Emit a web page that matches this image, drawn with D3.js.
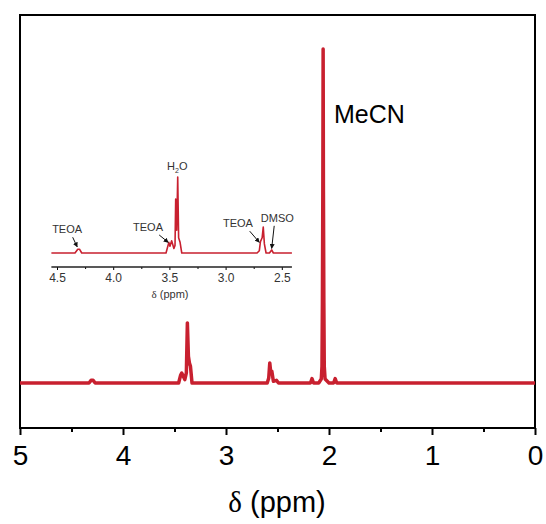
<!DOCTYPE html>
<html>
<head>
<meta charset="utf-8">
<script src="https://cdn.jsdelivr.net/npm/d3@7"></script>
<style>
  body { margin: 0; background: #fff; }
  text { font-family: 'Liberation Sans', Arial, sans-serif; }
</style>
</head>
<body>
<svg id="chart" width="546" height="524"></svg>
<script>
// main spectrum trace (ppm, intensity % of MeCN)
const mainPpm = [5.0, 4.33, 4.31, 4.29, 4.27, 3.46, 3.44, 3.43, 3.42, 3.40, 3.385, 3.375, 3.365, 3.355, 3.345, 3.33,
  2.60, 2.585, 2.575, 2.565, 2.555, 2.54, 2.51, 2.49, 2.18, 2.165, 2.15, 2.10, 2.075, 2.068, 2.064, 2.060, 2.057,
  2.054, 2.050, 2.046, 2.038, 2.00, 1.955, 1.94, 1.925, 0];
const mainInt = [0, 0, 0.8, 0.8, 0, 0, 2.4, 3.0, 2.4, 1.0, 3, 18, 8, 6, 5, 0,
  0, 1.5, 6, 3, 3.5, 0.5, 0.8, 0, 0, 1.3, 0, 0, 1.2, 5, 24, 57, 100,
  57, 24, 5, 1.2, 0, 0, 1.3, 0, 0];

// inset trace (ppm, intensity % of H2O)
const insetPpm = [4.55, 4.34, 4.315, 4.30, 4.28, 3.53, 3.505, 3.495, 3.48, 3.46, 3.45, 3.444, 3.435, 3.426, 3.418,
  3.405, 3.39, 2.72, 2.70, 2.69, 2.675, 2.665, 2.655, 2.64, 2.61, 2.59, 2.575, 2.41];
const insetInt = [0, 0, 5, 5, 0, 0, 14, 9, 16, 6, 10, 71, 30, 100, 20,
  14, 0, 0, 3, 15, 20, 34, 12, 0, 0, 4, 0, 0];

const mainTicks = [5, 4, 3, 2, 1, 0];
const mainMinor = [4.5, 3.5, 2.5, 1.5, 0.5];
const insetTicks = [4.5, 4.0, 3.5, 3.0, 2.5];
const insetMinor = [4.25, 3.75, 3.25, 2.75];

// inset annotations: label, label pos (ppm, intensity), arrow tip (ppm, intensity)
const insetLabels = ['TEOA', 'TEOA', 'TEOA', 'DMSO'];
const labelPpm = [4.41, 3.69, 2.89, 2.54];
const labelInt = [26, 29, 34, 41];
const tipPpm = [4.32, 3.51, 2.70, 2.59];
const tipInt = [8, 14, 14, 6];

const red = '#c8202f';
const svg = d3.select('#chart');

// ---- main plot
const x = d3.scaleLinear().domain([5, 0]).range([20, 535]);
const y = d3.scaleLinear().domain([0, 100]).range([383, 49]);

svg.append('rect')
  .attr('x', 20).attr('y', 15)
  .attr('width', 515).attr('height', 413)
  .style('fill', 'none').style('stroke', '#000').style('stroke-width', 2);

const mainData = mainPpm.map((p, i) => [p, mainInt[i]]);
const line = d3.line().x(d => x(d[0])).y(d => y(d[1]));

svg.append('path')
  .datum(mainData)
  .attr('d', line)
  .style('fill', 'none')
  .style('stroke', red)
  .style('stroke-width', 3.5)
  .style('stroke-linejoin', 'round');

const xAxis = svg.append('g')
  .attr('transform', 'translate(0,428)')
  .call(d3.axisBottom(x).tickValues(mainTicks).tickSize(7).tickPadding(10).tickFormat(d3.format('d')));
xAxis.select('.domain').remove();
xAxis.selectAll('line').style('stroke-width', 2);
xAxis.selectAll('text')
  .style('font-size', '28px')
  .style('font-family', "'Liberation Sans', Arial, sans-serif")
  .attr('fill', '#000');

const xMinor = svg.append('g')
  .attr('transform', 'translate(0,428)')
  .call(d3.axisBottom(x).tickValues(mainMinor).tickSize(4).tickFormat(''));
xMinor.select('.domain').remove();
xMinor.selectAll('line').style('stroke-width', 2);

const title = svg.append('text')
  .attr('x', 277).attr('y', 512)
  .attr('text-anchor', 'middle')
  .style('font-size', '29px');
title.append('tspan').style('font-family', "'Liberation Serif', 'Times New Roman', serif").text('δ');
title.append('tspan').text(' (ppm)');

svg.append('text')
  .attr('x', 334).attr('y', 123)
  .style('font-size', '25px')
  .text('MeCN');

// ---- inset
const xi = d3.scaleLinear().domain([4.5, 2.5]).range([57, 281.8]);
const yi = d3.scaleLinear().domain([0, 100]).range([253, 177]);

const insetData = insetPpm.map((p, i) => [p, insetInt[i]]);
const lineI = d3.line().x(d => xi(d[0])).y(d => yi(d[1]));

svg.append('path')
  .datum(insetData)
  .attr('d', lineI)
  .style('fill', 'none')
  .style('stroke', red)
  .style('stroke-width', 1.6)
  .style('stroke-linejoin', 'round');

const iAxis = svg.append('g')
  .attr('transform', 'translate(0,267)')
  .call(d3.axisBottom(xi).tickValues(insetTicks).tickSize(3).tickPadding(3).tickFormat(d3.format('.1f')));
iAxis.select('.domain').remove();
iAxis.selectAll('line').style('stroke-width', 1);
iAxis.selectAll('text')
  .style('font-size', '12px')
  .style('font-family', "'Liberation Sans', Arial, sans-serif")
  .attr('fill', '#333');

const iMinor = svg.append('g')
  .attr('transform', 'translate(0,267)')
  .call(d3.axisBottom(xi).tickValues(insetMinor).tickSize(2).tickFormat(''));
iMinor.select('.domain').remove();

svg.append('line')
  .attr('x1', xi(4.55)).attr('x2', xi(2.41))
  .attr('y1', 267).attr('y2', 267)
  .style('stroke', '#222').style('stroke-width', 1.5);

const iTitle = svg.append('text')
  .attr('x', 170).attr('y', 298)
  .attr('text-anchor', 'middle')
  .style('font-size', '11px')
  .attr('fill', '#333');
iTitle.append('tspan').style('font-family', "'Liberation Serif', 'Times New Roman', serif").text('δ');
iTitle.append('tspan').text(' (ppm)');

// H2O label
const h2o = svg.append('text')
  .attr('x', xi(3.43)).attr('y', 170)
  .attr('text-anchor', 'middle')
  .style('font-size', '11px')
  .attr('fill', '#333');
h2o.append('tspan').text('H');
h2o.append('tspan').attr('dy', 3).style('font-size', '7px').text('2');
h2o.append('tspan').attr('dy', -3).text('O');

svg.append('defs').append('marker')
  .attr('id', 'arrow')
  .attr('viewBox', '0 0 10 10')
  .attr('refX', 9).attr('refY', 5)
  .attr('markerWidth', 5).attr('markerHeight', 5)
  .attr('orient', 'auto')
  .append('path')
  .attr('d', 'M0,0 L10,5 L0,10 z')
  .style('fill', '#111');

insetLabels.forEach((lab, i) => {
  svg.append('text')
    .attr('x', xi(labelPpm[i])).attr('y', yi(labelInt[i]))
    .attr('text-anchor', 'middle')
    .style('font-size', '11px')
    .attr('fill', '#333')
    .text(lab);

  svg.append('line')
    .attr('x1', xi(labelPpm[i] + (tipPpm[i] - labelPpm[i]) * 0.55))
    .attr('y1', yi(labelInt[i]) + 4)
    .attr('x2', xi(tipPpm[i]))
    .attr('y2', yi(tipInt[i]))
    .style('stroke', '#111')
    .style('stroke-width', 1)
    .attr('marker-end', 'url(#arrow)');
});
</script>
</body>
</html>
